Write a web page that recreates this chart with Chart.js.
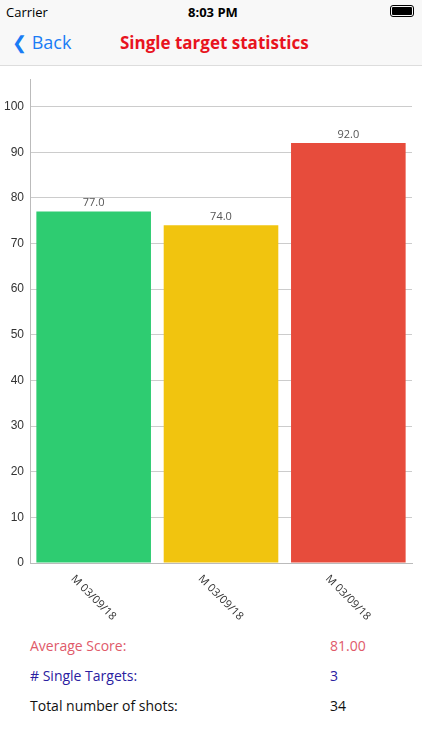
<!DOCTYPE html>
<html>
<head>
<meta charset="utf-8">
<script src="https://cdn.jsdelivr.net/npm/chart.js@4"></script>
<style>
  body { margin: 0; width: 422px; height: 750px; background: #fff; font-family: "Open Sans", "Noto Sans", sans-serif; position: relative; overflow: hidden; }
  .status { position: absolute; top: 0; left: 0; width: 422px; height: 22px; font-size: 13px; }
  .nav { position: absolute; top: 22px; left: 0; width: 422px; height: 43px; border-bottom: 1px solid #ddd; background: #f8f8f8; }
  .top { position: absolute; top: 0; left: 0; width: 422px; height: 22px; background: #f8f8f8; }
  .stats div { position: absolute; font-size: 14px; }
  #wrap { position: absolute; top: 66px; left: 0; width: 422px; height: 560px; }
</style>
</head>
<body>
<div class="top"></div>
<div class="status">
  <span style="position:absolute;left:6px;top:3px;">Carrier</span>
  <span style="position:absolute;left:188px;top:3px;font-weight:bold;">8:03 PM</span>
  <span style="position:absolute;left:390px;top:5px;width:22px;height:10px;border:1px solid #000;border-radius:3px;"><span style="display:block;margin:1px;height:8px;background:#000;border-radius:1px;"></span></span>
</div>
<div class="nav">
  <span style="position:absolute;left:12px;top:8px;color:#1a7cf5;font-size:18px;">&#10094; Back</span>
  <span style="position:absolute;left:120px;top:9px;color:#e8141e;font-size:17px;font-weight:bold;">Single target statistics</span>
</div>
<div id="wrap"><canvas id="chart"></canvas></div>
<div class="stats">
  <div style="left:30px;top:636px;color:#e05a6a;">Average Score:</div>
  <div style="left:330px;top:636px;color:#e05a6a;">81.00</div>
  <div style="left:30px;top:666px;color:#2a20a0;"># Single Targets:</div>
  <div style="left:330px;top:666px;color:#2a20a0;">3</div>
  <div style="left:30px;top:696px;color:#111;">Total number of shots:</div>
  <div style="left:330px;top:696px;color:#111;">34</div>
</div>
<script>
const categories = ['M 03/09/18', 'M 03/09/18', 'M 03/09/18'];
const scores = [77, 74, 92];
const barColors = ['#2ecc71', '#f1c40f', '#e74c3c'];

// value labels above bars and slanted category labels
const labelPlugin = {
  id: 'labels',
  afterDatasetsDraw(chart) {
    const ctx = chart.ctx;
    const meta = chart.getDatasetMeta(0);
    ctx.save();
    ctx.fillStyle = '#555';
    ctx.font = '11px "Open Sans", sans-serif';
    ctx.textAlign = 'center';
    ctx.textBaseline = 'bottom';
    meta.data.forEach((bar, i) => {
      ctx.fillText(scores[i].toFixed(1), bar.x, bar.y - 3);
    });
    const xs = chart.scales.x;
    ctx.fillStyle = '#333';
    ctx.textAlign = 'left';
    ctx.textBaseline = 'middle';
    categories.forEach((c, i) => {
      const x = xs.getPixelForTick(i);
      ctx.save();
      ctx.translate(x - 21, chart.chartArea.bottom + 14);
      ctx.rotate(Math.PI / 4);
      ctx.fillText(c, 0, 0);
      ctx.restore();
    });
    ctx.restore();
  }
};

new Chart(document.getElementById('chart'), {
  type: 'bar',
  data: {
    labels: categories,
    datasets: [{
      data: scores,
      backgroundColor: barColors,
      barPercentage: 0.9,
      categoryPercentage: 1
    }]
  },
  options: {
    responsive: true,
    maintainAspectRatio: false,
    animation: false,
    layout: { padding: { top: 4, right: 10, bottom: 55, left: 0 } },
    plugins: { legend: { display: false }, tooltip: { enabled: false } },
    scales: {
      x: {
        ticks: { display: false },
        grid: { display: false },
        border: { color: '#bbb' }
      },
      y: {
        min: 0,
        max: 106,
        afterFit(scale) { scale.width = 30; },
        afterBuildTicks(scale) { scale.ticks = scale.ticks.filter(t => t.value % 10 === 0); },
        ticks: { stepSize: 10, color: '#333', font: { size: 12 }, padding: 6 },
        grid: { color: '#ccc', drawTicks: false },
        border: { color: '#bbb' }
      }
    }
  },
  plugins: [labelPlugin]
});
</script>
</body>
</html>
